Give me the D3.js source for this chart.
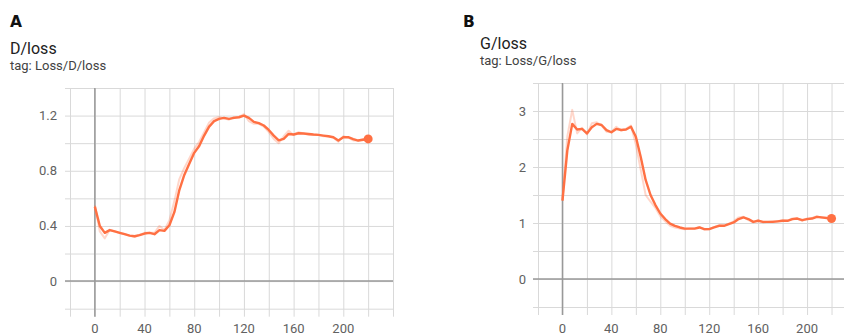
<!DOCTYPE html>
<html>
<head>
<meta charset="utf-8">
<script src="https://cdn.jsdelivr.net/npm/d3@7"></script>
<style>
  body { margin: 0; background: #fff; }
  svg { display: block; font-family: Roboto, "Noto Sans", sans-serif; }
  .grid line { stroke: #d9d9d9; stroke-width: 1; }
  .grid path { display: none; }
  .zero { stroke: #999; stroke-width: 1.5; }
  .tick-label { fill: #616161; font-size: 13px; }
</style>
</head>
<body>
<div id="chart"></div>
<script>
// training steps (shared by both runs)
var steps = [0, 4, 8, 12, 16, 20, 24, 28, 32, 36, 40, 44, 48, 52, 56, 60, 64, 68, 72, 76,
             80, 84, 88, 92, 96, 100, 104, 108, 112, 116, 120, 124, 128, 132, 136, 140, 144, 148, 152, 156,
             160, 164, 168, 172, 176, 180, 184, 188, 192, 196, 200, 204, 208, 212, 216, 220];

// D/loss, smoothed and raw
var dSmooth = [0.54, 0.40, 0.35, 0.37, 0.36, 0.35, 0.34, 0.33, 0.325, 0.333, 0.345, 0.35, 0.34, 0.37, 0.364, 0.405, 0.50, 0.66, 0.77, 0.85,
               0.93, 0.98, 1.055, 1.12, 1.16, 1.176, 1.183, 1.176, 1.183, 1.188, 1.20, 1.183, 1.154, 1.145, 1.128, 1.096, 1.055, 1.02, 1.031, 1.067,
               1.063, 1.072, 1.07, 1.067, 1.063, 1.06, 1.055, 1.05, 1.043, 1.02, 1.043, 1.043, 1.03, 1.019, 1.025, 1.031];
var dRaw = [0.55, 0.36, 0.31, 0.37, 0.36, 0.35, 0.34, 0.33, 0.32, 0.335, 0.35, 0.35, 0.35, 0.40, 0.37, 0.44, 0.58, 0.74, 0.82, 0.89,
            0.96, 1.01, 1.08, 1.15, 1.18, 1.19, 1.18, 1.17, 1.19, 1.19, 1.21, 1.16, 1.14, 1.14, 1.12, 1.08, 1.03, 1.00, 1.05, 1.09,
            1.06, 1.08, 1.07, 1.06, 1.06, 1.06, 1.05, 1.05, 1.04, 1.01, 1.05, 1.04, 1.02, 1.02, 1.03, 1.03];

// G/loss, smoothed and raw
var gSmooth = [1.40, 2.30, 2.77, 2.67, 2.68, 2.60, 2.71, 2.77, 2.75, 2.66, 2.62, 2.68, 2.66, 2.67, 2.72, 2.54, 2.18, 1.77, 1.50, 1.32,
               1.17, 1.07, 0.99, 0.95, 0.92, 0.90, 0.90, 0.90, 0.92, 0.89, 0.89, 0.92, 0.95, 0.95, 0.98, 1.01, 1.07, 1.10, 1.07, 1.02,
               1.04, 1.02, 1.02, 1.02, 1.03, 1.04, 1.04, 1.07, 1.08, 1.05, 1.07, 1.08, 1.11, 1.10, 1.09, 1.08];
var gRaw = [1.40, 2.55, 3.02, 2.60, 2.70, 2.58, 2.78, 2.80, 2.74, 2.63, 2.62, 2.72, 2.65, 2.68, 2.74, 2.40, 1.95, 1.50, 1.38, 1.27,
            1.12, 1.03, 0.95, 0.92, 0.90, 0.89, 0.90, 0.90, 0.93, 0.88, 0.89, 0.93, 0.96, 0.95, 0.99, 1.03, 1.10, 1.11, 1.05, 1.01,
            1.05, 1.01, 1.02, 1.03, 1.03, 1.05, 1.04, 1.08, 1.08, 1.04, 1.08, 1.09, 1.12, 1.09, 1.09, 1.08];

// tick labels
var xLabels = [0, 40, 80, 120, 160, 200];
var dLabels = [0, 0.4, 0.8, 1.2];
var gLabels = [0, 1, 2, 3];

var W = 844, H = 335;
var orange = "#ff7043";

var svg = d3.select("#chart").append("svg")
    .attr("width", W)
    .attr("height", H);

function drawPanel(p){
    var x = d3.scaleLinear().domain([-20, 240]).range([p.left, p.right]);
    var y = d3.scaleLinear().domain(p.yDomain).range([p.bottom, p.top]);
    var g = svg.append("g");

    // vertical grid, runs a little below the plot like tick marks
    g.append("g")
        .attr("class", "grid")
        .attr("transform", "translate(0," + (p.bottom + 8) + ")")
        .call(d3.axisBottom(x)
          .tickValues(d3.range(-20, 241, 20))
          .tickSize(-(p.bottom + 8 - p.top))
          .tickFormat(""));

    // horizontal grid, starts a little left of the plot
    g.append("g")
        .attr("class", "grid")
        .attr("transform", "translate(" + p.right + ",0)")
        .call(d3.axisLeft(y)
          .tickValues(p.yGrid)
          .tickSize(p.right - p.left + 5)
          .tickFormat(""));

    // zero lines
    g.append("line").attr("class", "zero")
        .attr("x1", x(0)).attr("x2", x(0))
        .attr("y1", p.top).attr("y2", p.bottom + 8);
    g.append("line").attr("class", "zero")
        .attr("x1", p.left - 5).attr("x2", p.right)
        .attr("y1", y(0)).attr("y2", y(0));

    // tick labels
    g.selectAll(".xl").data(xLabels).enter().append("text")
        .attr("class", "tick-label")
        .attr("x", function(d){ return x(d); })
        .attr("y", 333)
        .attr("text-anchor", "middle")
        .text(function(d){ return d; });
    g.selectAll(".yl").data(p.yLabels).enter().append("text")
        .attr("class", "tick-label")
        .attr("x", p.labelRight)
        .attr("y", function(d){ return y(d) + 4.5; })
        .attr("text-anchor", "end")
        .text(function(d){ return d; });

    var line = d3.line()
        .x(function(d){ return x(d[0]); })
        .y(function(d){ return y(d[1]); });

    var raw = steps.map(function(s, i){ return [s, p.raw[i]]; });
    var smooth = steps.map(function(s, i){ return [s, p.smooth[i]]; });

    g.append("path")
        .datum(raw)
        .attr("d", line)
        .style("fill", "none")
        .style("stroke", orange)
        .style("stroke-opacity", 0.28)
        .style("stroke-width", 2)
        .style("stroke-linejoin", "round");

    g.append("path")
        .datum(smooth)
        .attr("d", line)
        .style("fill", "none")
        .style("stroke", orange)
        .style("stroke-width", 2.4)
        .style("stroke-linejoin", "round");

    var last = smooth[smooth.length - 1];
    g.append("circle")
        .attr("cx", x(last[0]))
        .attr("cy", y(last[1]))
        .attr("r", 4.5)
        .style("fill", orange);

    // titles
    svg.append("text")
        .attr("x", p.letterX).attr("y", 27)
        .style("font-family", "'DejaVu Sans', sans-serif")
        .style("font-weight", "bold")
        .style("font-size", "15.5px")
        .style("fill", "#111")
        .text(p.letter);
    svg.append("text")
        .attr("x", p.titleX).attr("y", p.titleY)
        .style("font-size", "16px")
        .style("fill", "#212121")
        .text(p.title);
    svg.append("text")
        .attr("x", p.titleX).attr("y", p.titleY + 16)
        .style("font-size", "13px")
        .style("fill", "#424242")
        .text(p.tag);
}

drawPanel({
    left: 70, right: 393, top: 88, bottom: 308.7,
    yDomain: [-0.2, 1.4],
    yGrid: [-0.2, 0, 0.2, 0.4, 0.6, 0.8, 1.0, 1.2, 1.4],
    yLabels: dLabels, labelRight: 57,
    smooth: dSmooth, raw: dRaw,
    letter: "A", letterX: 10,
    title: "D/loss", tag: "tag: Loss/D/loss", titleX: 10, titleY: 53.5
});

drawPanel({
    left: 538, right: 856, top: 83, bottom: 307,
    yDomain: [-0.5, 3.5],
    yGrid: [-0.5, 0, 0.5, 1, 1.5, 2, 2.5, 3, 3.5],
    yLabels: gLabels, labelRight: 526,
    smooth: gSmooth, raw: gRaw,
    letter: "B", letterX: 463,
    title: "G/loss", tag: "tag: Loss/G/loss", titleX: 480, titleY: 48.5
});
</script>
</body>
</html>
